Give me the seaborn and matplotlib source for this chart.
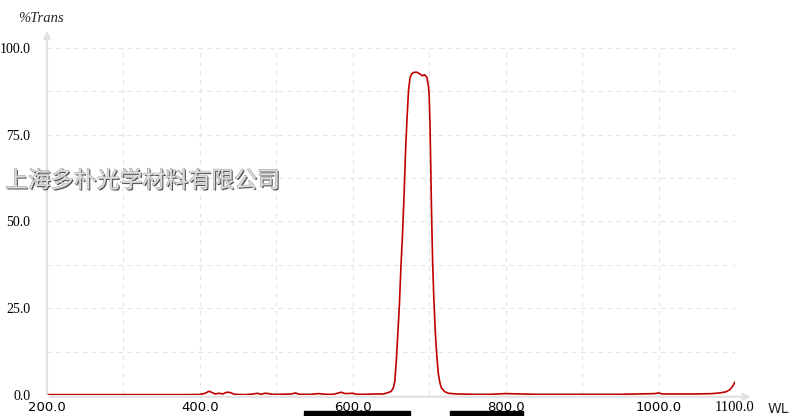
import matplotlib
matplotlib.use("Agg")
import matplotlib.pyplot as plt
import matplotlib.patheffects as pe
from matplotlib.patches import Rectangle
import pandas as pd
import seaborn as sns

# transmission spectrum
wavelength = [
    200, 300, 380, 400, 407, 412, 416, 420, 425, 430, 435, 440, 445, 460,
    470, 475, 480, 485, 490, 495, 505, 520, 525, 530, 545, 555, 565, 575,
    585, 590, 600, 605, 615, 630, 640, 645, 650, 653, 655, 657, 659, 661,
    663, 665, 667, 669, 671, 673, 675, 677, 680, 684, 688, 691, 694, 697,
    699, 700, 701, 702, 703, 704.5, 706, 708, 710, 712, 714, 716, 720, 725,
    735, 760, 780, 800, 820, 840, 900, 950, 995, 1000, 1005, 1050, 1070,
    1080, 1088, 1093, 1097, 1100,
]
transmission = [
    0.1, 0.1, 0.1, 0.15, 0.5, 1.1, 0.7, 0.3, 0.5, 0.3, 0.8, 0.7, 0.2, 0.1,
    0.3, 0.5, 0.2, 0.5, 0.4, 0.2, 0.2, 0.3, 0.6, 0.2, 0.2, 0.4, 0.2, 0.2,
    0.8, 0.4, 0.5, 0.2, 0.2, 0.3, 0.3, 0.6, 1.0, 2.0, 4.0, 10, 18, 26,
    37, 46, 57, 70, 80, 88, 91.5, 92.5, 93, 93, 92.5, 92.0, 92.3, 91.5,
    89, 86, 78, 66, 53, 38, 28, 18, 11, 6, 3.5, 2, 1, 0.5,
    0.3, 0.2, 0.2, 0.4, 0.3, 0.2, 0.2, 0.2, 0.4, 0.6, 0.3, 0.3, 0.4,
    0.6, 0.9, 1.5, 2.5, 3.8,
]

x_ticks = [200, 400, 600, 800, 1000, 1100]
x_grid = [300, 400, 500, 600, 700, 800, 900, 1000]
y_ticks = [0, 25, 50, 75, 100]
y_grid = [12.5, 25, 37.5, 50, 62.5, 75, 87.5, 100]
watermark = "上海多朴光学材料有限公司"

df = pd.DataFrame({"WL": wavelength, "T": transmission})

sns.set_theme(style="white")
fig = plt.figure(figsize=(8.1, 4.16), dpi=100)
ax = fig.add_axes([47 / 810, 21 / 416, 688 / 810, 347 / 416])

sns.lineplot(data=df, x="WL", y="T", ax=ax, color="#c00000", linewidth=1.2)

ax.set_xlim(200, 1100)
ax.set_ylim(0, 100)
ax.set_xlabel("")
ax.set_ylabel("")

# dashed grid
ax.set_xticks(x_grid, minor=True)
ax.set_yticks(y_grid, minor=True)
ax.xaxis.remove_overlapping_locs = False
ax.yaxis.remove_overlapping_locs = False
ax.grid(which="minor", color="#e4e4e4", linestyle=(0, (4, 4)), linewidth=0.8)
ax.grid(which="major", visible=False)

ax.set_xticks(x_ticks)
ax.set_xticklabels([f"{v:.1f}" for v in x_ticks])
ax.set_yticks(y_ticks)
ax.set_yticklabels([f"{v:.1f}" for v in y_ticks])
ax.tick_params(axis="x", which="both", length=0, pad=4, labelsize=9.5,
               labelcolor="black")
ax.tick_params(axis="y", which="both", length=0, pad=12, labelsize=9.5,
               labelcolor="black")
for lab in ax.get_yticklabels():
    lab.set_family("Liberation Serif")
    lab.set_fontsize(10)
last = ax.get_xticklabels()[-1]
last.set_family("Liberation Serif")
last.set_fontsize(10.5)

for side in ax.spines.values():
    side.set_visible(False)

# axis arrows
arrow = dict(arrowstyle="-|>", color="#e2e2e2", lw=1.6, mutation_scale=10)
ax.annotate("", xy=(0, 1.058), xytext=(0, -0.005), xycoords="axes fraction",
            arrowprops=arrow, annotation_clip=False)
ax.annotate("", xy=(1.027, -0.005), xytext=(0, -0.005), xycoords="axes fraction",
            arrowprops=arrow, annotation_clip=False)

fig.text(18 / 810, 1 - 18 / 416, "%Trans", family="Liberation Serif",
         style="italic", fontsize=10.5, va="center", ha="left")
fig.text(768 / 810, 1 - 409 / 416, "WL", family="DejaVu Sans", fontsize=10,
         va="center", ha="left")

fig.text(5 / 810, 1 - 181 / 416, watermark, family=["Noto Sans CJK SC", "DejaVu Sans"],
         fontsize=16.5, color="#dcdcdc", va="center", ha="left",
         path_effects=[pe.SimplePatchShadow(offset=(0.9, -0.9),
                                            shadow_rgbFace="#3c3c3c", alpha=0.9),
                       pe.Stroke(linewidth=0.5, foreground="#8a8a8a"),
                       pe.Normal()])

# scrollbar-like black bars under the plot
for x0, w in [(304, 106), (450, 73)]:
    fig.add_artist(Rectangle((x0 / 810, 0), w / 810, 5 / 416,
                             transform=fig.transFigure, color="black"))

fig.savefig("out.png", dpi=100)
